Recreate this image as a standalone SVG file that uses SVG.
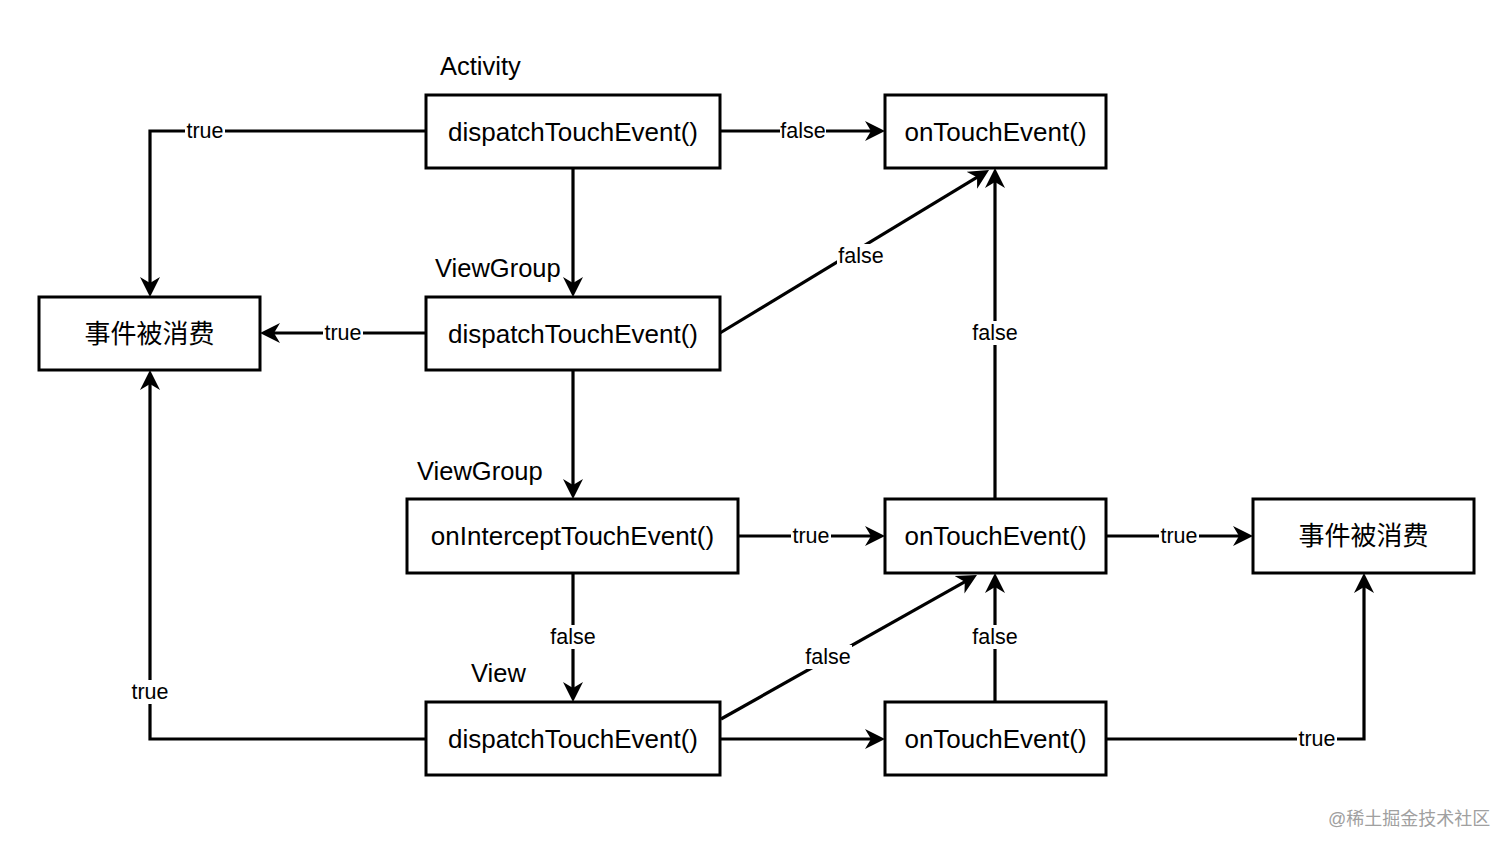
<svg xmlns="http://www.w3.org/2000/svg" width="1512" height="852" viewBox="0 0 1512 852">
<style>
.box{fill:#fff;stroke:#000;stroke-width:3}
.bt{font-family:"Liberation Sans",Arial,"Noto Sans CJK SC",sans-serif;font-size:26px;fill:#000;text-anchor:middle;dominant-baseline:central}
.cap{font-family:"Liberation Sans",Arial,sans-serif;font-size:25.5px;fill:#000}
.ln{fill:none;stroke:#000;stroke-width:3.2}
.lb{font-family:"Liberation Sans",Arial,sans-serif;font-size:21.5px;fill:#000;text-anchor:middle;dominant-baseline:central}
.lbg{fill:#fff}
.wm{font-family:"Liberation Sans","Noto Sans CJK SC",sans-serif;font-size:18px;fill:#a0a0a0}
</style>
<defs>
<marker id="arr" markerUnits="userSpaceOnUse" markerWidth="22" markerHeight="22" viewBox="0 0 22 22" refX="12" refY="11" orient="auto">
<path d="M20,11 L0,1 L6,11 L0,21 Z" fill="#000"/>
</marker>
</defs>
<rect width="1512" height="852" fill="#fff"/>

<g id="connectors">
<path class="ln" d="M426,131 H150 V289" marker-end="url(#arr)"/>
<path class="ln" d="M720,131 H877" marker-end="url(#arr)"/>
<path class="ln" d="M573,168 V289" marker-end="url(#arr)"/>
<path class="ln" d="M426,333 H268" marker-end="url(#arr)"/>
<path class="ln" d="M720,333 L982.2,174.1" marker-end="url(#arr)"/>
<path class="ln" d="M995,499 V176" marker-end="url(#arr)"/>
<path class="ln" d="M573,370 V491" marker-end="url(#arr)"/>
<path class="ln" d="M738,536 H877" marker-end="url(#arr)"/>
<path class="ln" d="M1106,536 H1245" marker-end="url(#arr)"/>
<path class="ln" d="M573,573 V694" marker-end="url(#arr)"/>
<path class="ln" d="M426,739 H150 V378" marker-end="url(#arr)"/>
<path class="ln" d="M721,719 L970,578.9" marker-end="url(#arr)"/>
<path class="ln" d="M720,739 H877" marker-end="url(#arr)"/>
<path class="ln" d="M995,702 V581" marker-end="url(#arr)"/>
<path class="ln" d="M1106,739 H1364 V581" marker-end="url(#arr)"/>

<rect class="lbg" x="185" y="120" width="40" height="22"/><text class="lb" x="205" y="131">true</text>
<rect class="lbg" x="780" y="120" width="46" height="22"/><text class="lb" x="803" y="131">false</text>
<rect class="lbg" x="323" y="322" width="40" height="22"/><text class="lb" x="343" y="333">true</text>
<rect class="lbg" x="837" y="244" width="48" height="24"/><text class="lb" x="861" y="256">false</text>
<rect class="lbg" x="971" y="321" width="48" height="24"/><text class="lb" x="995" y="333">false</text>
<rect class="lbg" x="791" y="525" width="40" height="22"/><text class="lb" x="811" y="536">true</text>
<rect class="lbg" x="1159" y="525" width="40" height="22"/><text class="lb" x="1179" y="536">true</text>
<rect class="lbg" x="549" y="625" width="48" height="24"/><text class="lb" x="573" y="637">false</text>
<rect class="lbg" x="130" y="680" width="40" height="24"/><text class="lb" x="150" y="692">true</text>
<rect class="lbg" x="804" y="645" width="48" height="24"/><text class="lb" x="828" y="657">false</text>
<rect class="lbg" x="971" y="625" width="48" height="24"/><text class="lb" x="995" y="637">false</text>
<rect class="lbg" x="1297" y="728" width="40" height="22"/><text class="lb" x="1317" y="739">true</text>
</g>

<g id="lbl-activity"><text class="cap" x="440" y="75">Activity</text></g>
<g id="lbl-viewgroup1"><text class="cap" x="435" y="277">ViewGroup</text></g>
<g id="lbl-viewgroup2"><text class="cap" x="417" y="480">ViewGroup</text></g>
<g id="lbl-view"><text class="cap" x="471" y="682">View</text></g>

<g id="activity-dispatch"><rect class="box" x="426" y="95" width="294" height="73"/><text class="bt" x="573" y="131.5">dispatchTouchEvent()</text></g>
<g id="activity-ontouch"><rect class="box" x="885" y="95" width="221" height="73"/><text class="bt" x="995.5" y="131.5">onTouchEvent()</text></g>
<g id="consumed-left"><rect class="box" x="39" y="297" width="221" height="73"/><text class="bt" x="149.5" y="333.5">事件被消费</text></g>
<g id="viewgroup-dispatch"><rect class="box" x="426" y="297" width="294" height="73"/><text class="bt" x="573" y="333.5">dispatchTouchEvent()</text></g>
<g id="viewgroup-intercept"><rect class="box" x="407" y="499" width="331" height="74"/><text class="bt" x="572.5" y="536">onInterceptTouchEvent()</text></g>
<g id="viewgroup-ontouch"><rect class="box" x="885" y="499" width="221" height="74"/><text class="bt" x="995.5" y="536">onTouchEvent()</text></g>
<g id="consumed-right"><rect class="box" x="1253" y="499" width="221" height="74"/><text class="bt" x="1363.5" y="536">事件被消费</text></g>
<g id="view-dispatch"><rect class="box" x="426" y="702" width="294" height="73"/><text class="bt" x="573" y="738.5">dispatchTouchEvent()</text></g>
<g id="view-ontouch"><rect class="box" x="885" y="702" width="221" height="73"/><text class="bt" x="995.5" y="738.5">onTouchEvent()</text></g>

<text class="wm" x="1328" y="825">@稀土掘金技术社区</text>
</svg>
